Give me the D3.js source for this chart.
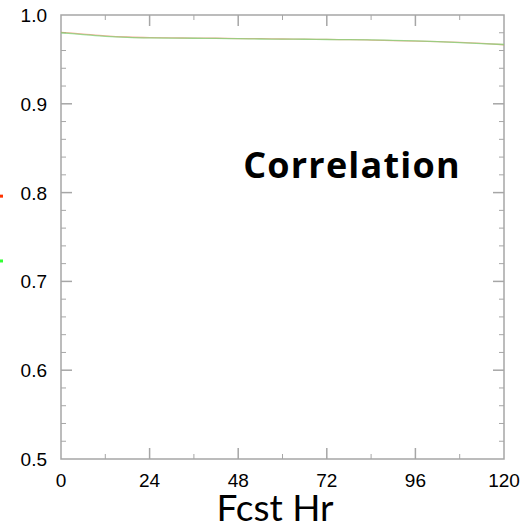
<!DOCTYPE html>
<html>
<head>
<meta charset="utf-8">
<script src="https://cdn.jsdelivr.net/npm/d3@7"></script>
<style>
  body { margin: 0; background: white; }
  svg { display: block; }
</style>
</head>
<body>
<div id="main_div"></div>
<script>
var SVG_WIDTH = 527;
var SVG_HEIGHT = 526;

var MARGIN = {left: 61, top: 15, right: 23, bottom: 67};

// forecast hours and series values
var fcst_hours = [0, 6, 12, 18, 24, 30, 36, 42, 48, 54, 60, 66, 72, 78, 84, 90, 96, 102, 108, 114, 120];
var red_values = [0.9805, 0.9785, 0.9765, 0.9752, 0.9745, 0.9742, 0.9740, 0.9738, 0.9735, 0.9733, 0.9730, 0.9728, 0.9725, 0.9722, 0.9718, 0.9712, 0.9706, 0.9700, 0.9692, 0.9680, 0.9665];
var green_values = [0.9800, 0.9780, 0.9760, 0.9748, 0.9742, 0.9740, 0.9738, 0.9736, 0.9733, 0.9730, 0.9728, 0.9727, 0.9724, 0.9722, 0.9720, 0.9714, 0.9708, 0.9700, 0.9690, 0.9678, 0.9668];

var x_ticks = [0, 24, 48, 72, 96, 120];
var y_ticks = [0.5, 0.6, 0.7, 0.8, 0.9, 1.0];

// legend markers that sit at the left edge (mostly cut off)
var legend_colors = ["#ff3300", "#33ff33"];
var legend_values = [0.796, 0.723];

var svg = d3.select("#main_div").append("svg")
            .attr("width", SVG_WIDTH)
            .attr("height", SVG_HEIGHT);

var x = d3.scaleLinear().domain([0, 120]).range([MARGIN.left, SVG_WIDTH - MARGIN.right]);
var y = d3.scaleLinear().domain([0.5, 1.0]).range([SVG_HEIGHT - MARGIN.bottom, MARGIN.top]);

var x_minor = d3.range(0, 121, 12).filter(function(d) { return x_ticks.indexOf(d) < 0; });
var y_minor = d3.range(50, 101, 2).map(function(d) { return d / 100; })
                .filter(function(d) { return Math.abs(d * 10 - Math.round(d * 10)) > 1e-6; });

var TICK_COLOR = "#a6a6a6";

// frame ticks (all four sides, pointing inward)
function drawTicks(g, vals, len, width) {
  // bottom
  g.selectAll(null).data(vals.x).enter().append("line")
    .attr("x1", function(d) { return x(d); }).attr("x2", function(d) { return x(d); })
    .attr("y1", y(0.5)).attr("y2", y(0.5) - len)
    .attr("stroke", TICK_COLOR).attr("stroke-width", width);
  // top
  g.selectAll(null).data(vals.x).enter().append("line")
    .attr("x1", function(d) { return x(d); }).attr("x2", function(d) { return x(d); })
    .attr("y1", y(1.0)).attr("y2", y(1.0) + len)
    .attr("stroke", TICK_COLOR).attr("stroke-width", width);
  // left
  g.selectAll(null).data(vals.y).enter().append("line")
    .attr("y1", function(d) { return y(d); }).attr("y2", function(d) { return y(d); })
    .attr("x1", x(0)).attr("x2", x(0) + len)
    .attr("stroke", TICK_COLOR).attr("stroke-width", width);
  // right
  g.selectAll(null).data(vals.y).enter().append("line")
    .attr("y1", function(d) { return y(d); }).attr("y2", function(d) { return y(d); })
    .attr("x1", x(120)).attr("x2", x(120) - len)
    .attr("stroke", TICK_COLOR).attr("stroke-width", width);
}

var ticks_g = svg.append("g");
drawTicks(ticks_g, {x: x_ticks.slice(1, -1), y: y_ticks.slice(1, -1)}, 11, 1.5);
drawTicks(ticks_g, {x: x_minor, y: y_minor}, 5, 1);

// frame
svg.append("rect")
    .attr("x", x(0)).attr("y", y(1.0))
    .attr("width", x(120) - x(0)).attr("height", y(0.5) - y(1.0))
    .attr("fill", "none")
    .attr("stroke", TICK_COLOR)
    .attr("stroke-width", 1.5);

// tick labels
svg.append("g").selectAll("text").data(x_ticks).enter().append("text")
    .attr("x", function(d) { return x(d); })
    .attr("y", 487)
    .attr("text-anchor", "middle")
    .style("font-family", "Liberation Sans, Arial, sans-serif")
    .style("font-size", "19px")
    .text(function(d) { return d; });

svg.append("g").selectAll("text").data(y_ticks).enter().append("text")
    .attr("x", 47)
    .attr("y", function(d) { return y(d) + 7; })
    .attr("text-anchor", "end")
    .style("font-family", "Liberation Sans, Arial, sans-serif")
    .style("font-size", "19px")
    .text(function(d) { return d.toFixed(1); });

// series lines
var line = d3.line()
    .x(function(d, i) { return x(fcst_hours[i]); })
    .y(function(d) { return y(d); })
    .curve(d3.curveMonotoneX);

svg.append("path").datum(red_values)
    .attr("d", line)
    .attr("fill", "none")
    .attr("stroke", "#f08868")
    .attr("stroke-opacity", 0.7)
    .attr("stroke-width", 1.3);

svg.append("path").datum(green_values)
    .attr("d", line)
    .attr("fill", "none")
    .attr("stroke", "#78d878")
    .attr("stroke-opacity", 0.7)
    .attr("stroke-width", 1.3);

// legend markers at left edge
svg.append("g").selectAll("rect").data(legend_values).enter().append("rect")
    .attr("x", 0)
    .attr("y", function(d) { return y(d) - 1.5; })
    .attr("width", 3).attr("height", 3)
    .attr("fill", function(d, i) { return legend_colors[i]; });

// titles
svg.append("text")
    .attr("x", 352).attr("y", 178)
    .attr("text-anchor", "middle")
    .style("font-family", "Open Sans, Lato, sans-serif")
    .style("font-weight", "bold")
    .style("font-size", "36px")
    .style("letter-spacing", "1.2px")
    .text("Correlation");

svg.append("text")
    .attr("x", 275).attr("y", 521)
    .attr("text-anchor", "middle")
    .style("font-family", "Lato, Open Sans, sans-serif")
    .style("font-size", "37px")
    .text("Fcst Hr");
</script>
</body>
</html>
